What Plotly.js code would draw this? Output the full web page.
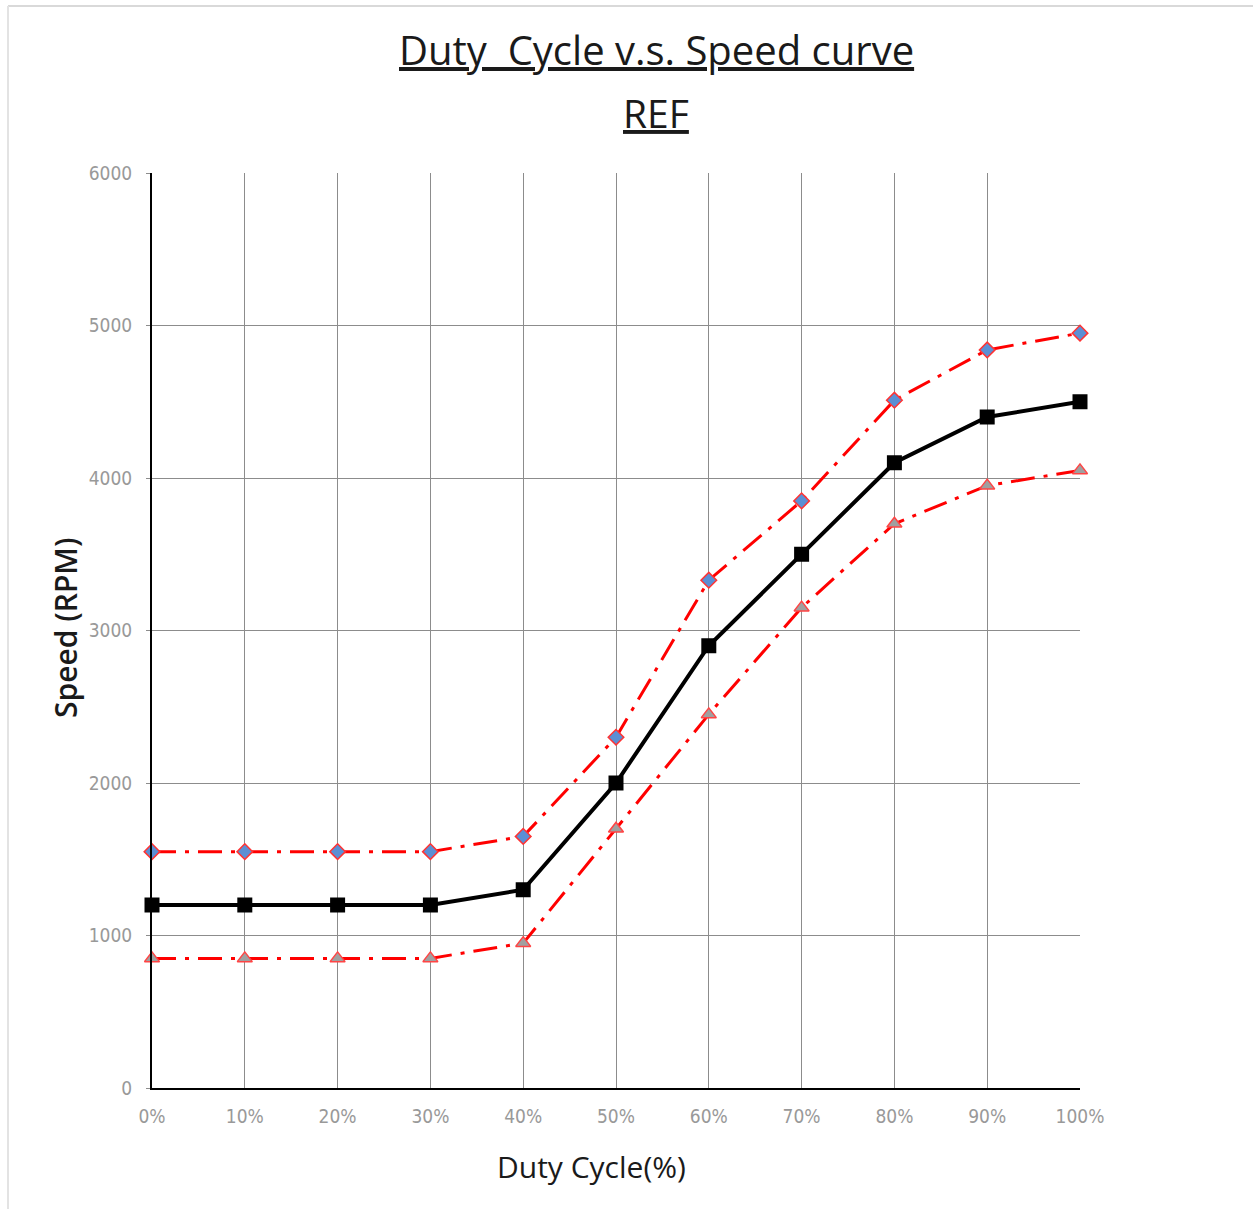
<!DOCTYPE html>
<html>
<head>
<meta charset="utf-8">
<script src="https://cdn.plot.ly/plotly-3.0.1.min.js"></script>
<style>html,body{margin:0;padding:0;background:#fff;}#chart{width:1253px;height:1209px;}</style>
</head>
<body>
<div id="chart"></div>
<script>
const dutyCycle = [0, 10, 20, 30, 40, 50, 60, 70, 80, 90, 100];
const tickLabels = ["0%", "10%", "20%", "30%", "40%", "50%", "60%", "70%", "80%", "90%", "100%"];
const speedUpper = [1550, 1550, 1550, 1550, 1650, 2300, 3330, 3850, 4510, 4840, 4950];
const speedNominal = [1200, 1200, 1200, 1200, 1300, 2000, 2900, 3500, 4100, 4400, 4500];
const speedLower = [850, 850, 850, 850, 950, 1700, 2450, 3150, 3700, 3950, 4050];

const traces = [
  {
    x: dutyCycle, y: speedUpper, type: 'scatter', mode: 'lines+markers', name: 'Upper', cliponaxis: false,
    line: {color: '#ff0000', width: 3, dash: '24px,9px,4px,9px'},
    marker: {symbol: 'diamond', size: 12, color: '#5b8fd4', line: {color: '#ff3333', width: 1.5}}
  },
  {
    x: dutyCycle, y: speedLower, type: 'scatter', mode: 'lines+markers', name: 'Lower', cliponaxis: false,
    line: {color: '#ff0000', width: 3, dash: '24px,9px,4px,9px'},
    marker: {symbol: 'triangle-up', size: 13, color: '#a0a0a0', line: {color: '#ff4444', width: 1.5}}
  },
  {
    x: dutyCycle, y: speedNominal, type: 'scatter', mode: 'lines+markers', name: 'Nominal', cliponaxis: false,
    line: {color: '#000000', width: 4},
    marker: {symbol: 'square', size: 15, color: '#000000'}
  }
];

const tickFont = {family: 'Liberation Sans Narrow, DejaVu Sans Condensed, sans-serif', size: 19, color: '#999999'};

const layout = {
  width: 1253, height: 1209,
  paper_bgcolor: '#ffffff', plot_bgcolor: '#ffffff',
  showlegend: false,
  margin: {l: 152, r: 173, t: 173, b: 121},
  xaxis: {
    range: [0, 100], tickvals: dutyCycle, ticktext: tickLabels,
    showgrid: true, gridcolor: '#8c8c8c', gridwidth: 1,
    showline: true, linecolor: '#000000', linewidth: 2,
    zeroline: false, ticks: '', tickfont: tickFont, ticklabelstandoff: 10,
    fixedrange: true
  },
  yaxis: {
    range: [0, 6000], tickvals: [0, 1000, 2000, 3000, 4000, 5000, 6000],
    showgrid: true, gridcolor: '#8c8c8c', gridwidth: 1,
    showline: true, linecolor: '#000000', linewidth: 2,
    zeroline: false, ticks: 'outside', ticklen: 4, tickcolor: '#8c8c8c',
    tickfont: tickFont, ticklabelstandoff: 10,
    fixedrange: true
  },
  annotations: [
    {
      text: '<u>Duty  Cycle v.s. Speed curve</u>', xref: 'paper', yref: 'paper',
      x: (656 - 152) / 928, y: (1088 - 50) / 915, xanchor: 'center', yanchor: 'middle',
      showarrow: false, font: {family: '"Open Sans", sans-serif', size: 40, color: '#1a1a1a'}
    },
    {
      text: '<u>REF</u>', xref: 'paper', yref: 'paper',
      x: (656 - 152) / 928, y: (1088 - 112) / 915, xanchor: 'center', yanchor: 'middle',
      showarrow: false, font: {family: '"Open Sans", sans-serif', size: 39, color: '#1a1a1a'}
    },
    {
      text: 'Duty Cycle(%)', xref: 'paper', yref: 'paper',
      x: (591 - 152) / 928, y: (1088 - 1166) / 915, xanchor: 'center', yanchor: 'middle',
      showarrow: false, font: {family: '"Open Sans", sans-serif', size: 30, color: '#1a1a1a'}
    },
    {
      text: 'Speed (RPM)', xref: 'paper', yref: 'paper', textangle: -90,
      x: (65 - 152) / 928, y: (1088 - 628) / 915, xanchor: 'center', yanchor: 'middle',
      showarrow: false, font: {family: '"Open Sans", sans-serif', size: 30, weight: 600, color: '#1a1a1a'}
    }
  ],
  shapes: [
    {type: 'line', xref: 'paper', yref: 'paper', x0: (8 - 152) / 928, x1: (1253 - 152) / 928,
     y0: (1088 - 6) / 915, y1: (1088 - 6) / 915, line: {color: '#d9d9d9', width: 2}},
    {type: 'line', xref: 'paper', yref: 'paper', x0: (8 - 152) / 928, x1: (8 - 152) / 928,
     y0: (1088 - 6) / 915, y1: (1088 - 1209) / 915, line: {color: '#e3e3e3', width: 2}}
  ]
};

Plotly.newPlot('chart', traces, layout, {displayModeBar: false, staticPlot: true});
</script>
</body>
</html>
